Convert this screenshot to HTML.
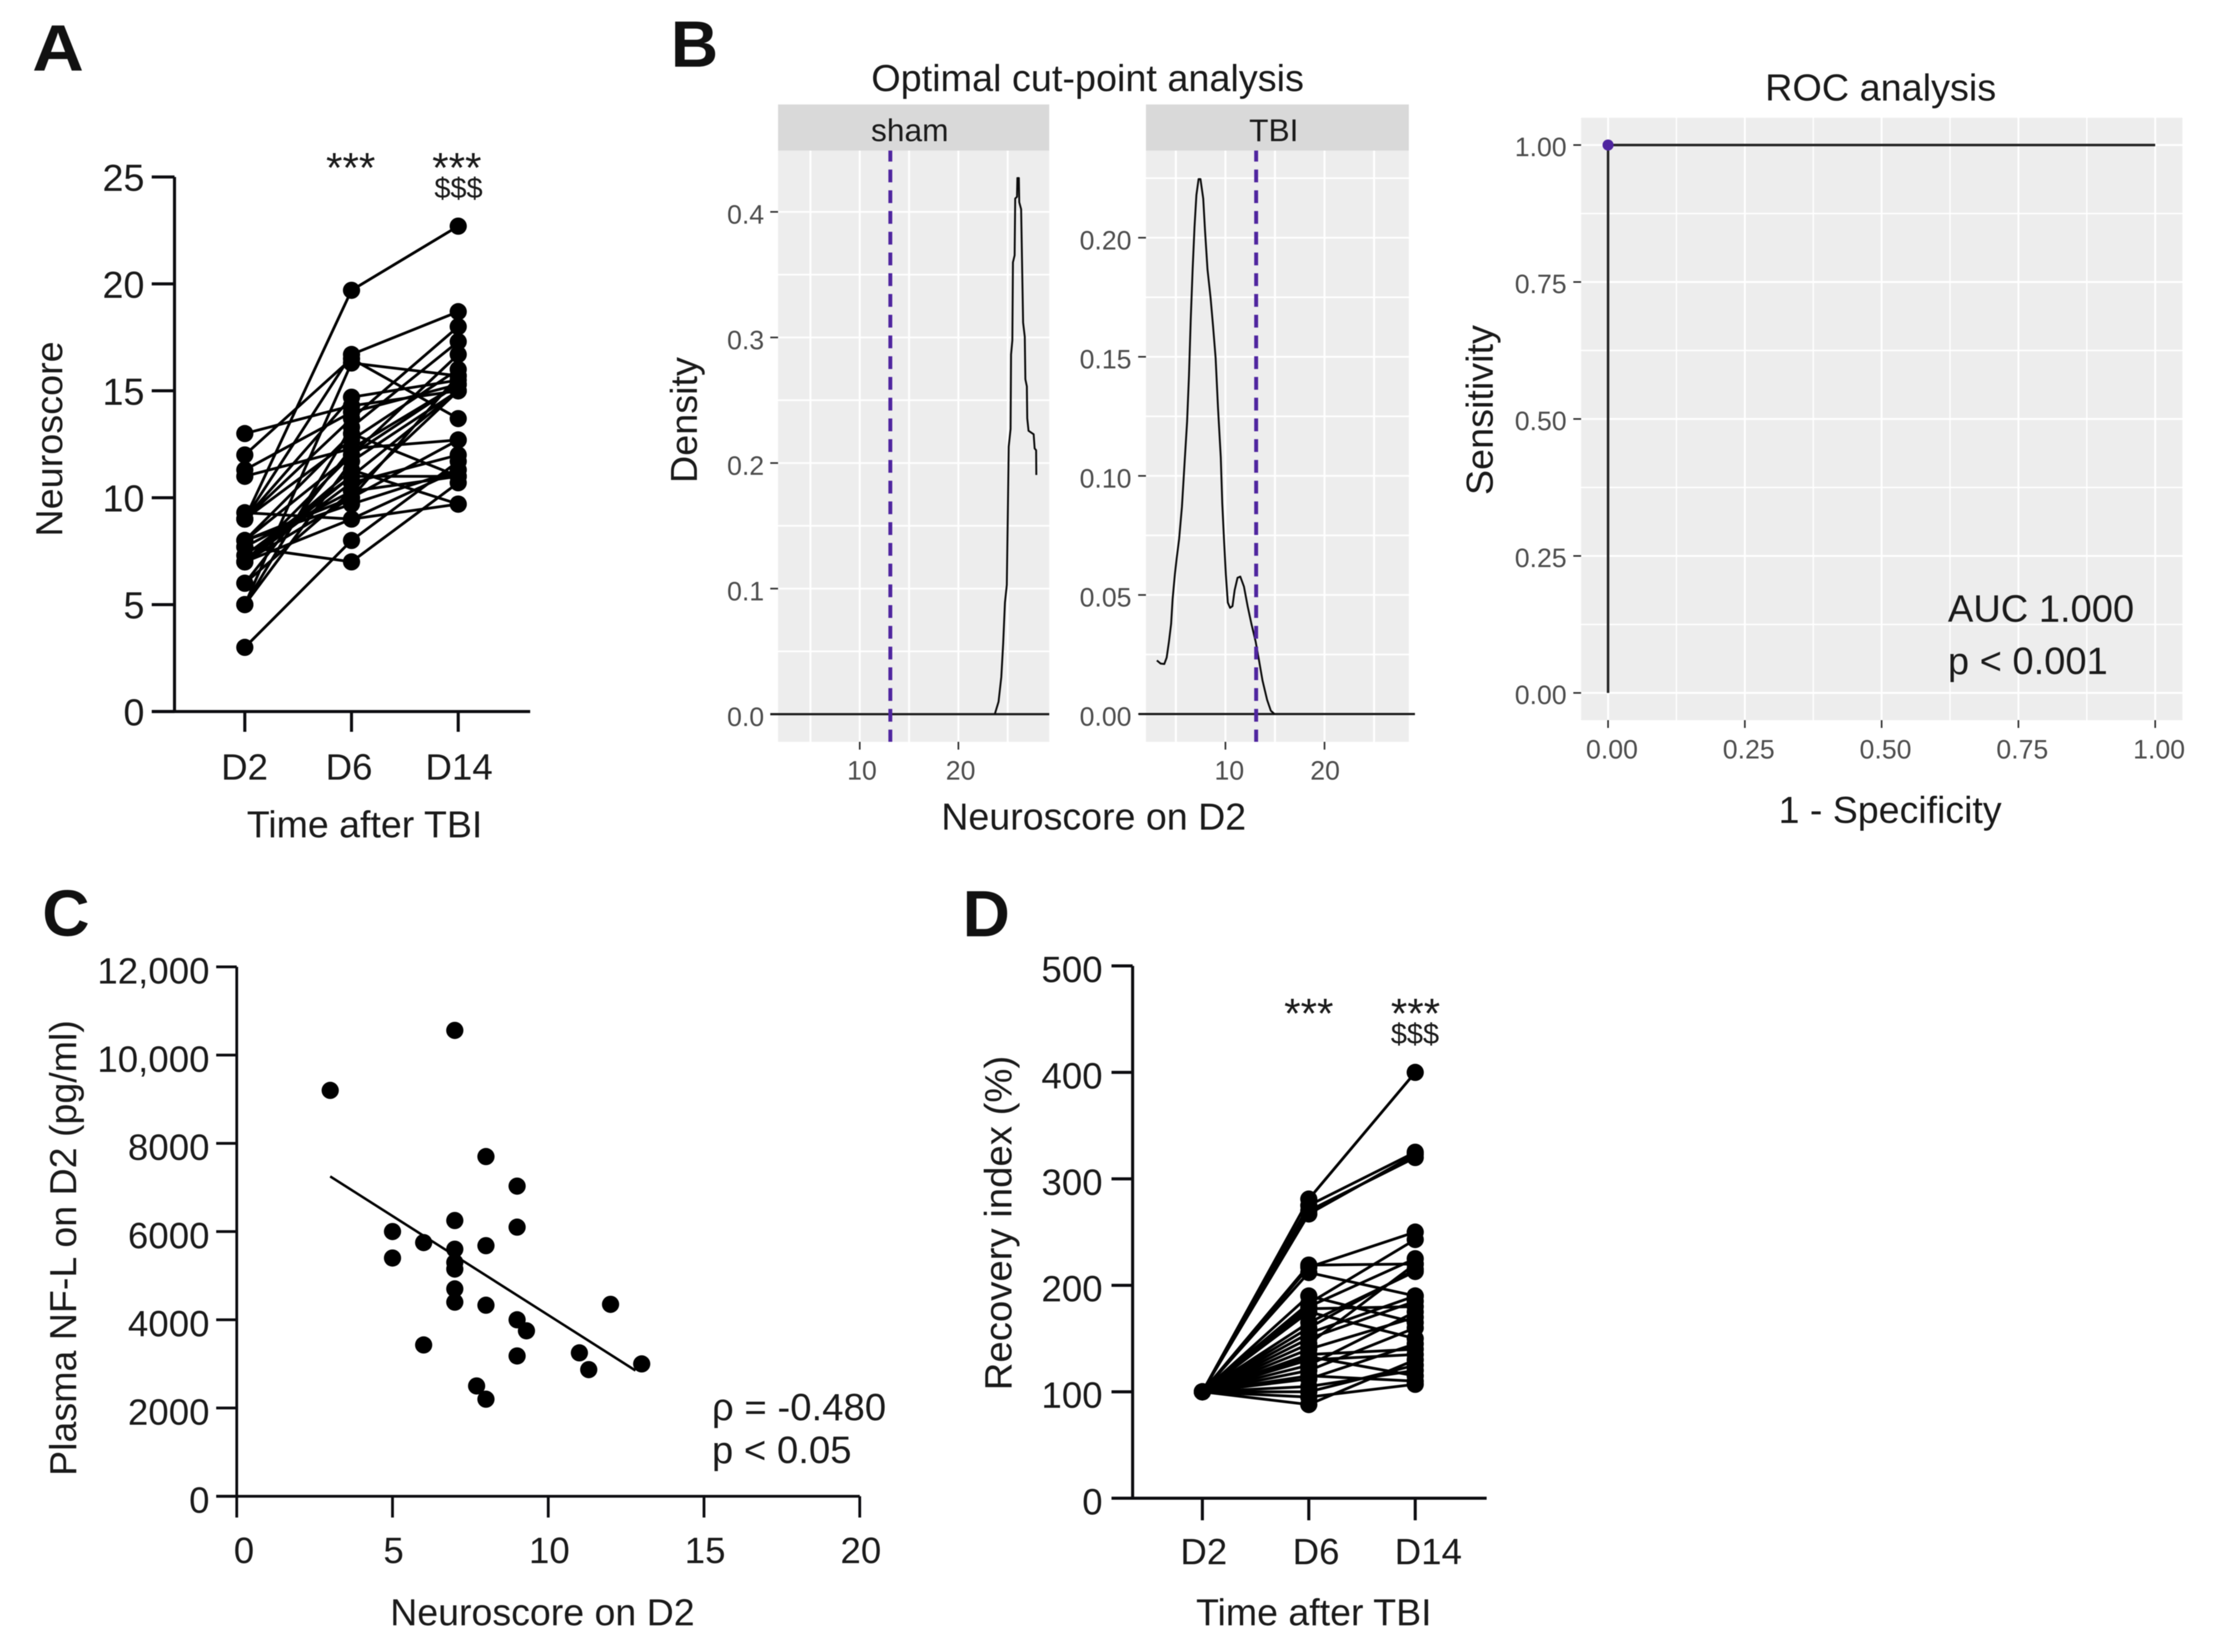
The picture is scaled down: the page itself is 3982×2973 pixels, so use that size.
<!DOCTYPE html>
<html><head><meta charset="utf-8"><title>Neuroscore figure</title>
<style>
html,body{margin:0;padding:0;background:#fff}
svg{display:block;font-family:"Liberation Sans",Arial,sans-serif;filter:blur(0.7px)}
text{fill:#1a1a1a}
.letter{font-weight:bold;font-size:118px;fill:#111}
.t66{font-size:67.5px}
.t65{font-size:66px}
.gt{font-size:48px;fill:#4d4d4d}
.star{font-size:76px;text-anchor:middle}
.dollar{font-size:52px;text-anchor:middle}
</style></head>
<body>
<svg id="fig" xmlns="http://www.w3.org/2000/svg" width="3982" height="2973" viewBox="0 0 3982 2973">
<rect width="3982" height="2973" fill="#fff"/>
<text class="letter" transform="translate(58,127) scale(1.09,1)">A</text>
<text class="letter" x="1207" y="120">B</text>
<text class="letter" x="76" y="1684">C</text>
<text class="letter" x="1732" y="1685">D</text>

<g id="panelA"></g>
<text class="t66" x="656" y="1507" text-anchor="middle">Time after TBI</text>
<text style="font-size:68px" transform="translate(112,790) rotate(-90)" text-anchor="middle">Neuroscore</text>
<text class="star" x="631" y="328">***</text>
<text class="star" x="822" y="328">***</text>
<text class="dollar" x="825" y="356">$$$</text>

<text style="font-size:68px" x="1957" y="164" text-anchor="middle">Optimal cut-point analysis</text>
<g id="panelB"></g>
<text style="font-size:57px" x="1637" y="254" text-anchor="middle">sham</text>
<text style="font-size:57px" x="2292" y="254" text-anchor="middle">TBI</text>
<text style="font-size:68px" transform="translate(1254,756) rotate(-90)" text-anchor="middle">Density</text>
<text style="font-size:67.6px" x="1968" y="1493" text-anchor="middle">Neuroscore on D2</text>

<text style="font-size:68px" x="3384" y="181" text-anchor="middle">ROC analysis</text>
<g id="panelR"></g>
<text style="font-size:67.5px" x="3401" y="1481" text-anchor="middle">1 - Specificity</text>
<text style="font-size:68px" transform="translate(2686,738) rotate(-90)" text-anchor="middle">Sensitivity</text>
<text style="font-size:68.5px" x="3505" y="1119">AUC 1.000</text>
<text style="font-size:68.5px" x="3505" y="1213">p &lt; 0.001</text>

<g id="panelC"></g>
<text style="font-size:67.5px" x="976" y="2925" text-anchor="middle">Neuroscore on D2</text>
<text style="font-size:67.6px" transform="translate(137,2246) rotate(-90)" text-anchor="middle">Plasma NF-L on D2 (pg/ml)</text>
<text style="font-size:69px" x="1281" y="2556">ρ = -0.480</text>
<text style="font-size:69px" x="1281" y="2633">p &lt; 0.05</text>

<g id="panelD"></g>
<text class="t66" x="2364" y="2925" text-anchor="middle">Time after TBI</text>
<text style="font-size:69px" transform="translate(1820,2201) rotate(-90)" text-anchor="middle">Recovery index (%)</text>
<text class="star" x="2355" y="1850">***</text>
<text class="star" x="2547" y="1850">***</text>
<text class="dollar" x="2546" y="1878">$$$</text>
</svg>
<script>
// ---- Panel A data (one entry per animal) ----
const timeCategories = ['D2','D6','D14'];
const neuroscoreTicks = [0,5,10,15,20,25];
const neuroD2  = [3,5,5,5,6,6,7,7,7,7,7,7,7.3,7.7,7.7,8,8,8,8,9,9,9,9,9.3,9,11,11.3,12,13];
const neuroD6  = [8,13.3,16.3,11.7,12.3,10.3,9,11,10.7,10,11.3,12,11,7,10.3,12,10,9.7,13,19.7,16.7,14.7,13.7,9,12.7,12.3,14,16.5,14.3];
const neuroD14 = [11.7,17.3,15.7,15,15.3,11,11.3,15,12,15.7,9.7,16.7,11,10.7,15,15.3,12.7,11.3,11,22.7,18.7,15.5,18,9.7,16,12.7,15.3,13.7,15];
// ---- Panel B data ----
const shamYTicks = [0,0.1,0.2,0.3,0.4];
const shamYMinor = [0.05,0.15,0.25,0.35];
const tbiYTicks = [0,0.05,0.10,0.15,0.20];
const tbiYLabels = ['0.00','0.05','0.10','0.15','0.20'];
const tbiYMinor = [0.025,0.075,0.125,0.175,0.225];
const densityXTicks = [10,20];
const densityXMinor = [5,15,25];
const cutPoint = 13.1;
const shamDensX = [23.69,24.07,24.35,24.54,24.72,24.91,25.0,25.10,25.29,25.34,25.47,25.53,25.70,25.76,25.94,25.98,26.13,26.17,26.36,26.45,26.56,26.73,26.79,26.94,26.98,27.11,27.63,27.73,27.88,27.90];
const shamDensY = [0,0.0099,0.0296,0.0564,0.0889,0.103,0.1538,0.213,0.2271,0.2864,0.2977,0.3598,0.3654,0.4106,0.412,0.4269,0.4269,0.4077,0.4021,0.3612,0.3118,0.3005,0.2667,0.261,0.2356,0.2257,0.2229,0.2116,0.2102,0.1905];
const tbiDensX = [3.08,3.46,3.83,4.07,4.30,4.52,4.67,4.90,5.08,5.33,5.61,5.89,6.13,6.32,6.50,6.69,6.88,7.07,7.29,7.48,7.76,7.94,8.19,8.50,8.75,9.01,9.25,9.53,9.68,9.87,10.04,10.24,10.47,10.71,10.93,11.22,11.50,11.87,12.24,12.62,13.05,13.37,13.74,14.21,14.58,14.95];
const tbiDensY = [0.0225,0.0212,0.0210,0.0237,0.0304,0.0379,0.0483,0.0587,0.0654,0.0736,0.0870,0.1063,0.1227,0.1420,0.1658,0.1867,0.2045,0.2179,0.2246,0.2246,0.2164,0.2030,0.1867,0.1748,0.1629,0.1495,0.1286,0.1078,0.0885,0.0721,0.0587,0.0468,0.0446,0.0453,0.0520,0.0572,0.0577,0.0535,0.0453,0.0379,0.0304,0.0230,0.0141,0.0059,0.0014,0];
// ---- ROC data ----
const rocTicks = [0,0.25,0.5,0.75,1];
const rocLabels = ['0.00','0.25','0.50','0.75','1.00'];
const rocMinor = [0.125,0.375,0.625,0.875];
const rocFpr = [0,0,1];
const rocTpr = [0,1,1];
// ---- Panel C data ----
const scatterXTicks = [0,5,10,15,20];
const scatterYTicks = [0,2000,4000,6000,8000,10000,12000];
const scatterYLabels = ['0','2000','4000','6000','8000','10,000','12,000'];
const scatterX = [3,5,5,6,6,7,7,7,7,7,7,7,7.7,8,8,8,8,9,9,9,9,9.3,11,11.3,12,13];
const scatterY = [9200,6000,5400,5750,3430,10560,6250,5600,5300,5150,4700,4400,2500,7700,5680,4330,2200,7030,6100,4000,3180,3750,3250,2870,4350,3000];
const fitX = [3,12.8];
const fitY = [7250,2850];
// ---- Panel D data ----
const recoveryTicks = [0,100,200,300,400,500];
const recoveryD2  = [100,100,100,100,100,100,100,100,100,100,100,100,100,100,100,100,100,100,100,100,100,100,100,100,100,100,100,100,100];
const recoveryD6  = [281,275,270,267,219,217,212,190,183,180,178,175,165,160,155,150,145,140,135,133,130,125,120,115,112,105,100,95,88];
const recoveryD14 = [400,325,320,323,220,250,190,165,243,225,180,150,213,215,190,185,220,170,140,115,135,175,160,110,145,120,125,107,130];

const NS='http://www.w3.org/2000/svg';
function mk(parent,tag,attrs,txt){
  const el=document.createElementNS(NS,tag);
  for(const k in attrs) el.setAttribute(k,attrs[k]);
  if(txt!==undefined) el.textContent=txt;
  parent.appendChild(el);
  return el;
}
const AXC='#0c0c10';

// ---------- Panel A ----------
(function(){
  const g=document.getElementById('panelA');
  const ay=v=>1280.5-(v/25)*962;
  const ax=i=>440.5+i*192;
  const labelX=[440,628,826];
  let el=mk(g,'line',{x1:314,x2:314,y1:ay(25),y2:1283,stroke:AXC,'stroke-width':5.5});
  
  
  el=mk(g,'line',{x1:273,x2:954,y1:ay(0),y2:ay(0),stroke:AXC,'stroke-width':5.5});
  
  
  neuroscoreTicks.forEach(v=>{
    let t=mk(g,'line',{x1:273,x2:314,y1:ay(v),y2:ay(v),stroke:AXC,'stroke-width':5.5});
    
    
    t=mk(g,'text',{x:260,y:ay(v)+25,'text-anchor':'end',style:'font-size:68px'},String(v));
    
    
  });
  timeCategories.forEach((c,i)=>{
    let t=mk(g,'line',{x1:ax(i),x2:ax(i),y1:ay(0),y2:1317,stroke:AXC,'stroke-width':5.5});
    
    
    t=mk(g,'text',{x:labelX[i],y:1403,'text-anchor':'middle','class':'t65'},c);
    
    
  });
  neuroD2.forEach((v,i)=>{
    const l=mk(g,'polyline',{points:[[ax(0),ay(v)],[ax(1),ay(neuroD6[i])],[ax(2),ay(neuroD14[i])]].join(' '),fill:'none',stroke:'#000','stroke-width':5});
    
    
  });
  [neuroD2,neuroD6,neuroD14].forEach((arr,c)=>arr.forEach(v=>{
    const p=mk(g,'circle',{cx:ax(c),cy:ay(v),r:15.5,fill:'#000'});
    
    
  }));
})();

// ---------- Panel B ----------
function facet(o){
  const g=document.getElementById('panelB');
  const x=v=>o.x10+(v-10)*o.xu;
  const y=v=>o.y0-v*o.yu;
  let el=mk(g,'rect',{x:o.l,y:271,width:o.r-o.l,height:1335-271,fill:'#ededed'});
  
  
  el=mk(g,'rect',{x:o.l,y:188,width:o.r-o.l,height:83,fill:'#d9d9d9'});
  
  
  o.yMinor.forEach(v=>{
    const t=mk(g,'line',{x1:o.l,x2:o.r,y1:y(v),y2:y(v),stroke:'#fff','stroke-width':3});
    
    
  });
  densityXMinor.forEach(v=>{
    const t=mk(g,'line',{x1:x(v),x2:x(v),y1:271,y2:1335,stroke:'#fff','stroke-width':3.6});
    
    
  });
  o.yTicks.forEach((v,i)=>{
    let t=mk(g,'line',{x1:o.l,x2:o.r,y1:y(v),y2:y(v),stroke:'#fff','stroke-width':3.2});
    
    
    t=mk(g,'line',{x1:o.l-14,x2:o.l,y1:y(v),y2:y(v),stroke:'#333','stroke-width':3});
    
    
    t=mk(g,'text',{x:o.labelR,y:y(v)+21,'text-anchor':'end','class':'gt'},o.yLabels[i]);
    
    
  });
  densityXTicks.forEach((v,i)=>{
    let t=mk(g,'line',{x1:x(v),x2:x(v),y1:271,y2:1335,stroke:'#fff','stroke-width':3.6});
    
    
    t=mk(g,'line',{x1:x(v),x2:x(v),y1:1335,y2:1349,stroke:'#333','stroke-width':3});
    
    
    t=mk(g,'text',{x:x(v)+o.labelDx[i],y:1403,'text-anchor':'middle','class':'gt'},String(v));
    
    
  });
  el=mk(g,'line',{x1:o.lineL,x2:o.lineR,y1:y(0),y2:y(0),stroke:'#1a1a1a','stroke-width':4});
  
  
  el=mk(g,'polyline',{points:o.dx.map((d,i)=>x(d)+','+y(o.dy[i])).join(' '),fill:'none',stroke:'#0a0a0a','stroke-width':3.4,'stroke-linejoin':'round'});
  
  
  el=mk(g,'line',{x1:x(cutPoint),x2:x(cutPoint),y1:271,y2:1335,stroke:'#4f259f','stroke-width':7,'stroke-dasharray':'23 14.33','stroke-dashoffset':3.2});
  
  
}
facet({id:'sham',l:1400,r:1888,x10:1547,xu:17.75,y0:1285.3,yu:2260,lineL:1386,lineR:1888,labelR:1375,labelDx:[4,4],
  yTicks:shamYTicks,yLabels:shamYTicks.map(v=>v.toFixed(1)),yMinor:shamYMinor,dx:shamDensX,dy:shamDensY});
facet({id:'tbi',l:2062,r:2535,x10:2205,xu:17.83,y0:1285,yu:4286,lineL:2049,lineR:2546,labelR:2036,labelDx:[7,1],
  yTicks:tbiYTicks,yLabels:tbiYLabels,yMinor:tbiYMinor,dx:tbiDensX,dy:tbiDensY});

// ---------- ROC ----------
(function(){
  const g=document.getElementById('panelR');
  const x=v=>2893.5+v*984.5;
  const y=v=>1247-v*986;
  let el=mk(g,'rect',{x:2845,y:212,width:1082,height:1084,fill:'#ededed'});
  
  
  rocMinor.forEach(v=>{
    let t=mk(g,'line',{x1:x(v),x2:x(v),y1:212,y2:1296,stroke:'#fff','stroke-width':2.4});
    
    
    t=mk(g,'line',{x1:2845,x2:3927,y1:y(v),y2:y(v),stroke:'#fff','stroke-width':2.4});
    
    
  });
  rocTicks.forEach((v,i)=>{
    let t=mk(g,'line',{x1:x(v),x2:x(v),y1:212,y2:1296,stroke:'#fff','stroke-width':3.4});
    
    
    t=mk(g,'line',{x1:2845,x2:3927,y1:y(v),y2:y(v),stroke:'#fff','stroke-width':3.4});
    
    
    t=mk(g,'line',{x1:2831,x2:2845,y1:y(v),y2:y(v),stroke:'#333','stroke-width':3});
    
    
    t=mk(g,'line',{x1:x(v),x2:x(v),y1:1296,y2:1310,stroke:'#333','stroke-width':3});
    
    
    t=mk(g,'text',{x:2819,y:y(v)+20,'text-anchor':'end','class':'gt'},rocLabels[i]);
    
    
    t=mk(g,'text',{x:x(v)+7,y:1365,'text-anchor':'middle','class':'gt'},rocLabels[i]);
    
    
  });
  el=mk(g,'polyline',{points:rocFpr.map((f,i)=>x(f)+','+y(rocTpr[i])).join(' '),fill:'none',stroke:'#222','stroke-width':4.5});
  
  
  el=mk(g,'circle',{cx:x(0),cy:y(1),r:10,fill:'#4f259f'});
  
  
})();

// ---------- Panel C ----------
(function(){
  const g=document.getElementById('panelC');
  const x=v=>426+v*56.05;
  const y=v=>2692.7-v/12000*952.7;
  let el=mk(g,'line',{x1:426,x2:426,y1:y(12000),y2:2731,stroke:AXC,'stroke-width':5});
  
  
  el=mk(g,'line',{x1:389,x2:x(20),y1:y(0),y2:y(0),stroke:AXC,'stroke-width':5});
  
  
  scatterYTicks.forEach((v,i)=>{
    let t=mk(g,'line',{x1:389,x2:426,y1:y(v),y2:y(v),stroke:AXC,'stroke-width':5});
    
    
    t=mk(g,'text',{x:377,y:y(v)+30,'text-anchor':'end',style:'font-size:66px'},scatterYLabels[i]);
    
    
  });
  scatterXTicks.forEach(v=>{
    let t=mk(g,'line',{x1:x(v),x2:x(v),y1:y(0),y2:2731,stroke:AXC,'stroke-width':5});
    
    
    t=mk(g,'text',{x:x(v)+(v===0?13:2),y:2813,'text-anchor':'middle',style:'font-size:66px'},String(v));
    
    
  });
  el=mk(g,'line',{x1:x(fitX[0]),y1:y(fitY[0]),x2:x(fitX[1]),y2:y(fitY[1]),stroke:'#000','stroke-width':4.5});
  
  
  scatterX.forEach((v,i)=>{
    const p=mk(g,'circle',{cx:x(v),cy:y(scatterY[i]),r:15.5,fill:'#000'});
    
    
  });
})();

// ---------- Panel D ----------
(function(){
  const g=document.getElementById('panelD');
  const ay=v=>2696.3-v/500*958;
  const ax=i=>2163.5+i*191.5;
  const labelX=[2166,2368,2570];
  let el=mk(g,'line',{x1:2038,x2:2038,y1:ay(500),y2:2699,stroke:AXC,'stroke-width':5.5});
  
  
  el=mk(g,'line',{x1:2000,x2:2675,y1:ay(0),y2:ay(0),stroke:AXC,'stroke-width':5.5});
  
  
  recoveryTicks.forEach(v=>{
    let t=mk(g,'line',{x1:2000,x2:2038,y1:ay(v),y2:ay(v),stroke:AXC,'stroke-width':5.5});
    
    
    t=mk(g,'text',{x:1984,y:ay(v)+29,'text-anchor':'end','class':'t65'},String(v));
    
    
  });
  timeCategories.forEach((c,i)=>{
    let t=mk(g,'line',{x1:ax(i),x2:ax(i),y1:ay(0),y2:2736,stroke:AXC,'stroke-width':5.5});
    
    
    t=mk(g,'text',{x:labelX[i],y:2815,'text-anchor':'middle','class':'t65'},c);
    
    
  });
  recoveryD2.forEach((v,i)=>{
    const l=mk(g,'polyline',{points:[[ax(0),ay(v)],[ax(1),ay(recoveryD6[i])],[ax(2),ay(recoveryD14[i])]].join(' '),fill:'none',stroke:'#000','stroke-width':5});
    
    
  });
  [recoveryD2,recoveryD6,recoveryD14].forEach((arr,c)=>arr.forEach(v=>{
    const p=mk(g,'circle',{cx:ax(c),cy:ay(v),r:15.5,fill:'#000'});
    
    
  }));
})();
</script>
</body></html>
